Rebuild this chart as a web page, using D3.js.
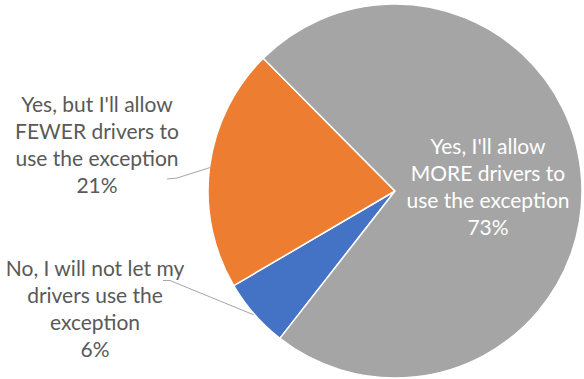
<!DOCTYPE html>
<html>
<head>
<meta charset="utf-8">
<script src="https://cdn.jsdelivr.net/npm/d3@7"></script>
<style>
  html, body { margin: 0; padding: 0; background: #fff; }
  svg { display: block; }
  text { font-family: Lato, "Open Sans", sans-serif; }
</style>
</head>
<body>
<svg id="chart" width="584" height="379"></svg>
<script>
// Survey answers, in drawing order (clockwise)
const categories = [
  "No, I will not let my drivers use the exception",
  "Yes, but I'll allow FEWER drivers to use the exception",
  "Yes, I'll allow MORE drivers to use the exception"
];
const shares = [6, 21, 73];
const valueLabels = ["6%", "21%", "73%"];
const labelLines = [
  ["No, I will not let my", "drivers use the", "exception"],
  ["Yes, but I'll allow", "FEWER drivers to", "use the exception"],
  ["Yes, I'll allow", "MORE drivers to", "use the exception"]
];
const colors = ["#4472C4", "#ED7D31", "#A5A5A5"];

const width = 584, height = 379;
const cx = 395, cy = 191, radius = 187;
const start = 218 * Math.PI / 180;

const svg = d3.select("#chart");

const pie = d3.pie().sort(null).value(d => d)
  .startAngle(start).endAngle(start + 2 * Math.PI);
const arcs = pie(shares);
const arc = d3.arc().innerRadius(0).outerRadius(radius);

const g = svg.append("g").attr("transform", `translate(${cx},${cy})`);
g.selectAll("path.slice")
  .data(arcs)
  .join("path")
  .attr("class", "slice")
  .attr("d", arc)
  .attr("fill", (d, i) => colors[i])
  .attr("stroke", "#fff")
  .attr("stroke-width", 1.5)
  .attr("stroke-linejoin", "round");

// Label placement: outside labels for the two small slices, inside for the large one
const fontSize = 21;
const lineH = 26.8;
const labelPos = [
  { x: 95, y: 269, color: "#595959" },
  { x: 97, y: 105, color: "#595959" },
  { x: 488, y: 147, color: "#ffffff" }
];

// Leader lines from outside labels to the outer edge of each slice
const leaderFor = i => {
  const a = arcs[i];
  const mid = (a.startAngle + a.endAngle) / 2;
  const r = radius * (i === 0 ? 1.005 : 0.99);
  return [Math.sin(mid) * r + cx, -Math.cos(mid) * r + cy];
};
const leaders = [
  [[163, 280.5], [170, 280.5], leaderFor(0)],
  [[167, 179], [177, 178], leaderFor(1)]
];
svg.selectAll("path.leader")
  .data(leaders)
  .join("path")
  .attr("class", "leader")
  .attr("d", d3.line())
  .attr("fill", "none")
  .attr("stroke", "#A6A6A6")
  .attr("stroke-width", 1);

labelPos.forEach((p, i) => {
  const t = svg.append("text")
    .attr("text-anchor", "middle")
    .attr("font-size", fontSize)
    .attr("fill", p.color);
  const lines = labelLines[i].concat([valueLabels[i]]);
  lines.forEach((ln, k) => {
    t.append("tspan")
      .attr("x", p.x)
      .attr("y", p.y + k * lineH)
      .attr("dy", "0.35em")
      .text(ln);
  });
});
</script>
</body>
</html>
